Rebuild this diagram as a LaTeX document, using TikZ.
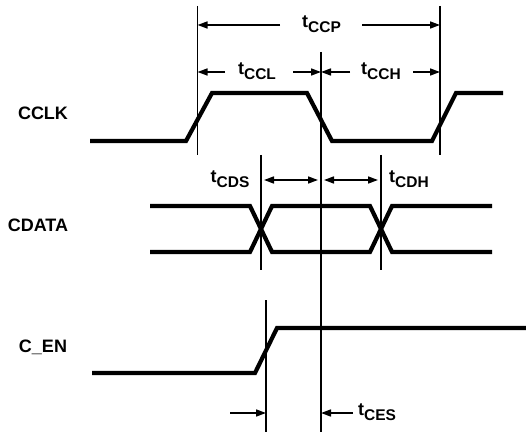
\documentclass[tikz,border=0pt]{standalone}
\usepackage{fontspec}
\setmainfont{Liberation Sans}
\usetikzlibrary{arrows.meta}
\newcommand{\tname}[1]{t\raisebox{-4.5pt}{\fontsize{15.5}{15.5}\selectfont #1}}

\begin{document}
\begin{tikzpicture}[x=1pt,y=-1pt,
    wave/.style={line width=4.2pt, line join=miter},
    guide/.style={line width=1.3pt},
    dim/.style={line width=1.6pt, -{Triangle[length=10pt,width=7pt]}},
    twin/.style={line width=1.6pt, {Triangle[length=10pt,width=7pt]}-{Triangle[length=10pt,width=7pt]}, shorten <=3pt, shorten >=3pt},
    sig/.style={font=\fontsize{18}{18}\selectfont\bfseries},
    tlab/.style={font=\fontsize{18}{18}\selectfont\bfseries, inner sep=0pt}]
  \useasboundingbox (0,0) rectangle (526,435);

  % signal names
  \node[sig] (cclk) at (43,113) {CCLK};
  \node[sig] (cdata) at (38,225) {CDATA};
  \node[sig] (cen) at (43,347) {C\_EN};

  % waveforms
  \draw[wave] (90,141) -- (186,141) -- (212,93) -- (307,93) -- (332,141)
    -- (432,141) -- (456,93) -- (503,93);
  \draw[wave] (150,206) -- (250,206) -- (272,252) -- (370,252) -- (392,206)
    -- (492,206);
  \draw[wave] (150,252) -- (250,252) -- (272,206) -- (370,206) -- (392,252)
    -- (492,252);
  \draw[wave] (92,373) -- (255,373) -- (277,328) -- (526,328);

  % reference lines
  \coordinate (ltop) at (197.5,6);   \coordinate (lbot) at (197.5,155);
  \coordinate (mtop) at (321,52);    \coordinate (mbot) at (321,432);
  \coordinate (rtop) at (440,6);     \coordinate (rbot) at (440,155);
  \coordinate (dstop) at (261,155);  \coordinate (dsbot) at (261,270);
  \coordinate (dhtop) at (381,155);  \coordinate (dhbot) at (381,270);
  \coordinate (estop) at (266,300);  \coordinate (esbot) at (266,432);
  \draw[guide] (ltop) -- (lbot);
  \draw[guide] (mtop) -- (mbot);
  \draw[guide] (rtop) -- (rbot);
  \draw[guide] (dstop) -- (dsbot);
  \draw[guide] (dhtop) -- (dhbot);
  \draw[guide] (estop) -- (esbot);

  % timing labels
  \node[tlab] (tccp) at (321.5,24) {\tname{CCP}};
  \node[tlab] (tccl) at (257,71) {\tname{CCL}};
  \node[tlab] (tcch) at (381,71) {\tname{CCH}};
  \node[tlab] (tcds) at (230,179) {\tname{CDS}};
  \node[tlab] (tcdh) at (409,179) {\tname{CDH}};
  \node[tlab, anchor=west] (tces) at (358,412) {\tname{CES}};

  \coordinate (ccp) at (0,25);
  \coordinate (ccl) at (0,72);
  \coordinate (cds) at (0,180);
  \coordinate (ces) at (0,413);
  \draw[dim] (280,25) -- (ccp -| ltop);
  \draw[dim] (362,25) -- (ccp -| rtop);
  \draw[dim] (225,72) -- (ccl -| ltop);
  \draw[dim] (293,72) -- (ccl -| mtop);
  \draw[dim] (350,72) -- (ccl -| mtop);
  \draw[dim] (413,72) -- (ccl -| rtop);
  \draw[twin] (cds -| dstop) -- (cds -| mtop);
  \draw[twin] (cds -| mtop) -- (cds -| dhtop);
  \draw[dim] (230,413) -- (ces -| estop);
  \draw[dim] (353,413) -- (ces -| mtop);
\end{tikzpicture}
\end{document}
